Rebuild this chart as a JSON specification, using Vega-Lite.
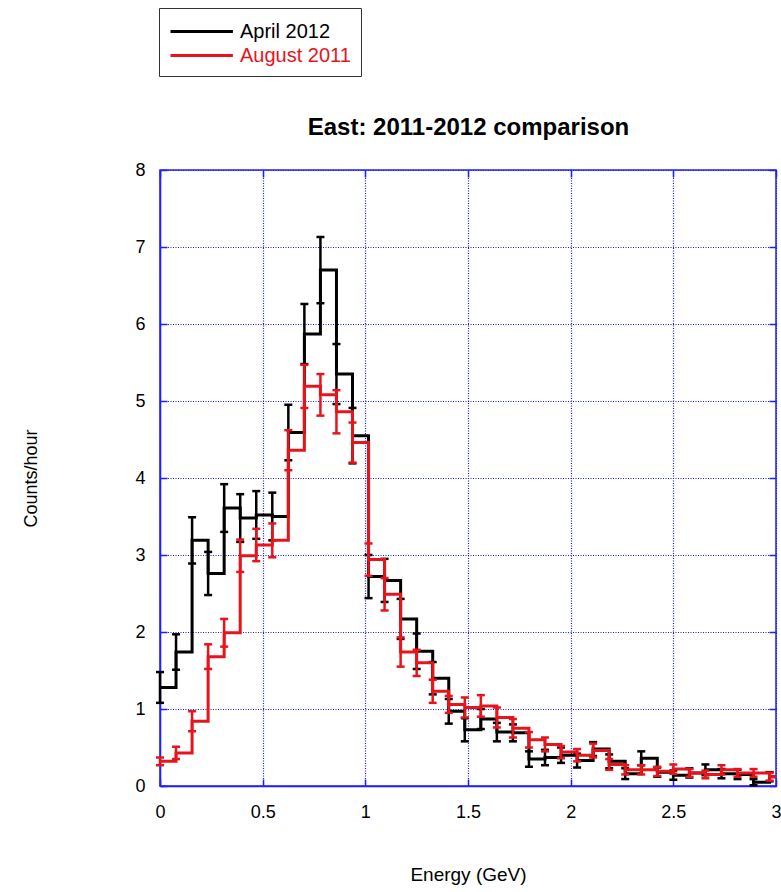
{
  "$schema": "https://vega.github.io/schema/vega-lite/v6.json",
  "width": 616,
  "height": 616,
  "autosize": "none",
  "padding": {"left": 160, "top": 170, "right": 5, "bottom": 106},
  "background": "white",
  "config": {
    "view": {"stroke": "#1f1fff", "strokeWidth": 1.5},
    "axis": {
      "labelFont": "Liberation Sans",
      "titleFont": "Liberation Sans",
      "labelFontSize": 18,
      "titleFontSize": 18,
      "titleFontWeight": "normal",
      "labelColor": "#000000",
      "titleColor": "#000000",
      "domainColor": "#1f1fff",
      "domainWidth": 1.5,
      "tickColor": "#1f1fff",
      "tickWidth": 1.5,
      "tickSize": -7,
      "gridColor": "#1a1aff",
      "gridDash": [1, 1.5],
      "gridWidth": 1.2,
      "gridOpacity": 1
    }
  },
  "datasets": {
    "hist": [
      {"s": "April 2012", "E": 0, "v": 1.28, "e": 0.2},
      {"s": "April 2012", "E": 0.078125, "v": 1.74, "e": 0.23},
      {"s": "April 2012", "E": 0.15625, "v": 3.19, "e": 0.3},
      {"s": "April 2012", "E": 0.234375, "v": 2.76, "e": 0.28},
      {"s": "April 2012", "E": 0.3125, "v": 3.61, "e": 0.31},
      {"s": "April 2012", "E": 0.390625, "v": 3.48, "e": 0.31},
      {"s": "April 2012", "E": 0.46875, "v": 3.52, "e": 0.31},
      {"s": "April 2012", "E": 0.546875, "v": 3.5, "e": 0.31},
      {"s": "April 2012", "E": 0.625, "v": 4.59, "e": 0.36},
      {"s": "April 2012", "E": 0.703125, "v": 5.87, "e": 0.39},
      {"s": "April 2012", "E": 0.78125, "v": 6.7, "e": 0.43},
      {"s": "April 2012", "E": 0.859375, "v": 5.35, "e": 0.39},
      {"s": "April 2012", "E": 0.9375, "v": 4.55, "e": 0.36},
      {"s": "April 2012", "E": 1.015625, "v": 2.72, "e": 0.28},
      {"s": "April 2012", "E": 1.09375, "v": 2.67, "e": 0.28},
      {"s": "April 2012", "E": 1.171875, "v": 2.17, "e": 0.26},
      {"s": "April 2012", "E": 1.25, "v": 1.75, "e": 0.23},
      {"s": "April 2012", "E": 1.328125, "v": 1.4, "e": 0.21},
      {"s": "April 2012", "E": 1.40625, "v": 0.97, "e": 0.16},
      {"s": "April 2012", "E": 1.484375, "v": 0.73, "e": 0.15},
      {"s": "April 2012", "E": 1.5625, "v": 0.87, "e": 0.13},
      {"s": "April 2012", "E": 1.640625, "v": 0.7, "e": 0.12},
      {"s": "April 2012", "E": 1.71875, "v": 0.69, "e": 0.11},
      {"s": "April 2012", "E": 1.796875, "v": 0.35, "e": 0.1},
      {"s": "April 2012", "E": 1.875, "v": 0.37, "e": 0.1},
      {"s": "April 2012", "E": 1.953125, "v": 0.4, "e": 0.1},
      {"s": "April 2012", "E": 2.03125, "v": 0.33, "e": 0.09},
      {"s": "April 2012", "E": 2.109375, "v": 0.48, "e": 0.09},
      {"s": "April 2012", "E": 2.1875, "v": 0.32, "e": 0.09},
      {"s": "April 2012", "E": 2.265625, "v": 0.16, "e": 0.07},
      {"s": "April 2012", "E": 2.34375, "v": 0.36, "e": 0.09},
      {"s": "April 2012", "E": 2.421875, "v": 0.18, "e": 0.06},
      {"s": "April 2012", "E": 2.5, "v": 0.14, "e": 0.06},
      {"s": "April 2012", "E": 2.578125, "v": 0.17, "e": 0.06},
      {"s": "April 2012", "E": 2.65625, "v": 0.21, "e": 0.07},
      {"s": "April 2012", "E": 2.734375, "v": 0.16, "e": 0.06},
      {"s": "April 2012", "E": 2.8125, "v": 0.15, "e": 0.06},
      {"s": "April 2012", "E": 2.890625, "v": 0.05, "e": 0.04},
      {"s": "April 2012", "E": 2.96875, "v": 0.12, "e": 0.06},
      {"s": "April 2012", "E": 3.046875, "v": 0.12},
      {"s": "August 2011", "E": 0, "v": 0.32, "e": 0.05},
      {"s": "August 2011", "E": 0.078125, "v": 0.43, "e": 0.08},
      {"s": "August 2011", "E": 0.15625, "v": 0.84, "e": 0.13},
      {"s": "August 2011", "E": 0.234375, "v": 1.68, "e": 0.16},
      {"s": "August 2011", "E": 0.3125, "v": 1.99, "e": 0.18},
      {"s": "August 2011", "E": 0.390625, "v": 2.99, "e": 0.21},
      {"s": "August 2011", "E": 0.46875, "v": 3.13, "e": 0.21},
      {"s": "August 2011", "E": 0.546875, "v": 3.19, "e": 0.22},
      {"s": "August 2011", "E": 0.625, "v": 4.36, "e": 0.26},
      {"s": "August 2011", "E": 0.703125, "v": 5.19, "e": 0.28},
      {"s": "August 2011", "E": 0.78125, "v": 5.08, "e": 0.27},
      {"s": "August 2011", "E": 0.859375, "v": 4.86, "e": 0.28},
      {"s": "August 2011", "E": 0.9375, "v": 4.46, "e": 0.26},
      {"s": "August 2011", "E": 1.015625, "v": 2.94, "e": 0.21},
      {"s": "August 2011", "E": 1.09375, "v": 2.49, "e": 0.21},
      {"s": "August 2011", "E": 1.171875, "v": 1.74, "e": 0.19},
      {"s": "August 2011", "E": 1.25, "v": 1.6, "e": 0.17},
      {"s": "August 2011", "E": 1.328125, "v": 1.23, "e": 0.15},
      {"s": "August 2011", "E": 1.40625, "v": 1.06, "e": 0.11},
      {"s": "August 2011", "E": 1.484375, "v": 1.02, "e": 0.13},
      {"s": "August 2011", "E": 1.5625, "v": 1.04, "e": 0.14},
      {"s": "August 2011", "E": 1.640625, "v": 0.89, "e": 0.13},
      {"s": "August 2011", "E": 1.71875, "v": 0.75, "e": 0.12},
      {"s": "August 2011", "E": 1.796875, "v": 0.6, "e": 0.1},
      {"s": "August 2011", "E": 1.875, "v": 0.54, "e": 0.09},
      {"s": "August 2011", "E": 1.953125, "v": 0.44, "e": 0.08},
      {"s": "August 2011", "E": 2.03125, "v": 0.4, "e": 0.08},
      {"s": "August 2011", "E": 2.109375, "v": 0.46, "e": 0.09},
      {"s": "August 2011", "E": 2.1875, "v": 0.28, "e": 0.07},
      {"s": "August 2011", "E": 2.265625, "v": 0.21, "e": 0.06},
      {"s": "August 2011", "E": 2.34375, "v": 0.21, "e": 0.06},
      {"s": "August 2011", "E": 2.421875, "v": 0.19, "e": 0.06},
      {"s": "August 2011", "E": 2.5, "v": 0.22, "e": 0.06},
      {"s": "August 2011", "E": 2.578125, "v": 0.17, "e": 0.05},
      {"s": "August 2011", "E": 2.65625, "v": 0.15, "e": 0.05},
      {"s": "August 2011", "E": 2.734375, "v": 0.21, "e": 0.06},
      {"s": "August 2011", "E": 2.8125, "v": 0.17, "e": 0.05},
      {"s": "August 2011", "E": 2.890625, "v": 0.17, "e": 0.05},
      {"s": "August 2011", "E": 2.96875, "v": 0.12, "e": 0.05},
      {"s": "August 2011", "E": 3.046875, "v": 0.12}
    ]
  },
  "data": {"name": "hist"},
  "resolve": {"axis": {"x": "independent", "y": "independent"}},
  "layer": [
    {
      "transform": [{"filter": "datum.s === 'April 2012'"}],
      "mark": {"type": "line", "interpolate": "step-after", "strokeWidth": 3, "clip": true},
      "encoding": {
        "x": {
          "field": "E", "type": "quantitative",
          "scale": {"domain": [0, 3], "nice": false, "zero": false},
          "axis": {"orient": "bottom", "values": [0, 0.5, 1, 1.5, 2, 2.5, 3], "format": "~g", "title": "Energy (GeV)", "titleFontSize": 19, "labelPadding": 24, "titlePadding": 44, "labelFlush": false}
        },
        "y": {
          "field": "v", "type": "quantitative",
          "scale": {"domain": [0, 8], "nice": false},
          "axis": {"orient": "left", "values": [0, 1, 2, 3, 4, 5, 6, 7, 8], "title": "Counts/hour", "labelPadding": 22, "titlePadding": 94, "labelFlush": false}
        },
        "color": {
          "field": "s", "type": "nominal",
          "scale": {"domain": ["April 2012", "August 2011"], "range": ["#000000", "#e8141c"]},
          "legend": {
            "title": null,
            "orient": "none",
            "legendX": -1,
            "legendY": -162,
            "direction": "vertical",
            "symbolType": "M-1,0H4.2",
            "symbolSize": 576,
            "symbolStrokeWidth": 3,
            "symbolOpacity": 1,
            "labelFont": "Liberation Sans",
            "labelFontSize": 20,
            "labelColor": {"expr": "datum.label === 'August 2011' ? '#e8141c' : '#000000'"},
            "labelOffset": 44,
            "rowPadding": 0,
            "padding": 10,
            "strokeColor": "#333333",
            "fillColor": "#ffffff"
          }
        }
      }
    },
    {
      "transform": [{"filter": "datum.s === 'April 2012' && isValid(datum.e)"}],
      "mark": {"type": "errorbar", "ticks": {"opacity": 1}, "rule": {"opacity": 1}, "size": 8, "thickness": 2.5},
      "encoding": {
        "x": {"field": "E", "type": "quantitative", "axis": {"orient": "top", "values": [0, 0.5, 1, 1.5, 2, 2.5, 3], "labels": false, "grid": false, "domain": false, "title": "East: 2011-2012 comparison", "titleFontSize": 24, "titleFontWeight": "bold", "titlePadding": 30}},
        "y": {"field": "v", "type": "quantitative", "axis": {"orient": "right", "values": [0, 1, 2, 3, 4, 5, 6, 7, 8], "labels": false, "grid": false, "domain": false, "title": null}},
        "yError": {"field": "e"},
        "color": {"field": "s", "type": "nominal"}
      }
    },
    {
      "transform": [{"filter": "datum.s === 'August 2011'"}],
      "mark": {"type": "line", "interpolate": "step-after", "strokeWidth": 3, "clip": true},
      "encoding": {
        "x": {"field": "E", "type": "quantitative", "axis": null},
        "y": {"field": "v", "type": "quantitative", "axis": null},
        "color": {"field": "s", "type": "nominal"}
      }
    },
    {
      "transform": [{"filter": "datum.s === 'August 2011' && isValid(datum.e)"}],
      "mark": {"type": "errorbar", "ticks": {"opacity": 1}, "rule": {"opacity": 1}, "size": 8, "thickness": 2.5},
      "encoding": {
        "x": {"field": "E", "type": "quantitative", "axis": null},
        "y": {"field": "v", "type": "quantitative", "axis": null},
        "yError": {"field": "e"},
        "color": {"field": "s", "type": "nominal"}
      }
    }
  ]
}
